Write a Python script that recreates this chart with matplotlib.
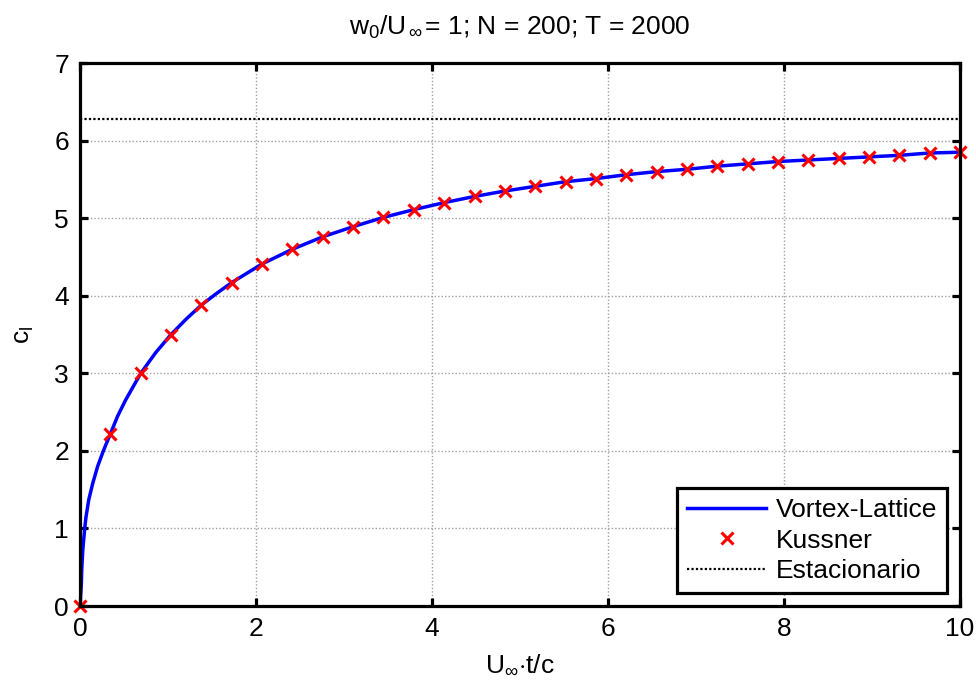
import matplotlib
matplotlib.use("Agg")
import matplotlib.pyplot as plt
from matplotlib.ticker import MultipleLocator

plt.rcParams['font.family'] = ['Liberation Sans', 'DejaVu Sans']
plt.rcParams['mathtext.fontset'] = 'custom'
plt.rcParams['mathtext.rm'] = 'Liberation Sans'
plt.rcParams['mathtext.it'] = 'Liberation Sans'
plt.rcParams['mathtext.default'] = 'rm'

# Vortex-lattice lift coefficient history
vl_time = [0.0, 0.015, 0.019, 0.031, 0.053, 0.068, 0.099, 0.144, 0.200,
           0.265, 0.345, 0.428, 0.520, 0.690, 0.862, 1.034, 1.207, 1.379,
           1.552, 1.724, 2.069, 2.414, 2.759, 3.103, 3.448, 3.793, 4.138,
           4.483, 4.828, 5.172, 5.517, 5.862, 6.207, 6.552, 6.897, 7.241,
           7.586, 7.931, 8.276, 8.621, 8.966, 9.310, 9.655, 10.0]
vl_cl = [0.0, 0.29, 0.46, 0.72, 1.00, 1.15, 1.37, 1.58, 1.80,
         2.00, 2.22, 2.45, 2.66, 3.00, 3.27, 3.50, 3.70, 3.88,
         4.03, 4.17, 4.41, 4.60, 4.76, 4.89, 5.01, 5.11, 5.20,
         5.28, 5.35, 5.41, 5.47, 5.51, 5.56, 5.60, 5.63, 5.67,
         5.70, 5.73, 5.75, 5.77, 5.79, 5.81, 5.84, 5.85]

# Kussner function samples
k_time = [0.0, 0.345, 0.690, 1.034, 1.379, 1.724, 2.069, 2.414, 2.759, 3.103,
          3.448, 3.793, 4.138, 4.483, 4.828, 5.172, 5.517, 5.862, 6.207, 6.552,
          6.897, 7.241, 7.586, 7.931, 8.276, 8.621, 8.966, 9.310, 9.655, 10.0]
k_cl = [0.0, 2.22, 3.00, 3.50, 3.88, 4.17, 4.41, 4.60, 4.76, 4.89,
        5.01, 5.11, 5.20, 5.28, 5.35, 5.41, 5.47, 5.51, 5.56, 5.60,
        5.63, 5.67, 5.70, 5.73, 5.75, 5.77, 5.79, 5.81, 5.84, 5.85]

# Steady-state value (2*pi)
steady_time = [0.0, 10.0]
steady_cl = [6.2832, 6.2832]

FS = 19

fig = plt.figure(figsize=(9.76, 6.82), dpi=100)
ax = fig.add_axes([0.082, 0.1114, 0.9016, 0.7962])

ax.plot(vl_time, vl_cl, color='#0000ff', lw=2.5, label='Vortex-Lattice', zorder=3)
ax.plot(k_time, k_cl, linestyle='none', marker='x', color='#ff0000',
        ms=8.5, mew=2.2, label='Kussner', zorder=4, clip_on=False)
ax.plot(steady_time, steady_cl, color='black', lw=1.6, linestyle=(0, (1, 1)),
        label='Estacionario', zorder=3)

ax.set_xlim(0, 10)
ax.set_ylim(0, 7)
ax.xaxis.set_major_locator(MultipleLocator(2))
ax.yaxis.set_major_locator(MultipleLocator(1))

ax.grid(True, color='#a0a0a0', linestyle=(0, (1, 1.5)), lw=1.0)
ax.set_axisbelow(True)

for sp in ax.spines.values():
    sp.set_linewidth(2.3)
    sp.set_zorder(5)
ax.tick_params(direction='in', length=6, width=2.3, top=True, right=True,
               labelsize=FS, pad=8)

ax.set_title(r'$\mathregular{w_{0}/U_{\,\infty\,}}$= 1; N = 200; T = 2000',
             fontsize=FS, pad=20)
ax.set_xlabel(r'$\mathregular{U_{\infty}}$$\cdot$t/c', fontsize=FS, labelpad=8)
ax.set_ylabel(r'$\mathregular{c_{l}}$', fontsize=FS, labelpad=13)

leg = ax.legend(loc='lower right', bbox_to_anchor=(0.985, 0.024),
                borderaxespad=0, fontsize=FS, fancybox=False, framealpha=1,
                edgecolor='black', handlelength=3.0, handletextpad=0.34,
                labelspacing=0.24, borderpad=0.38)
leg.get_frame().set_linewidth(2.3)

fig.savefig('out.png', dpi=100)
